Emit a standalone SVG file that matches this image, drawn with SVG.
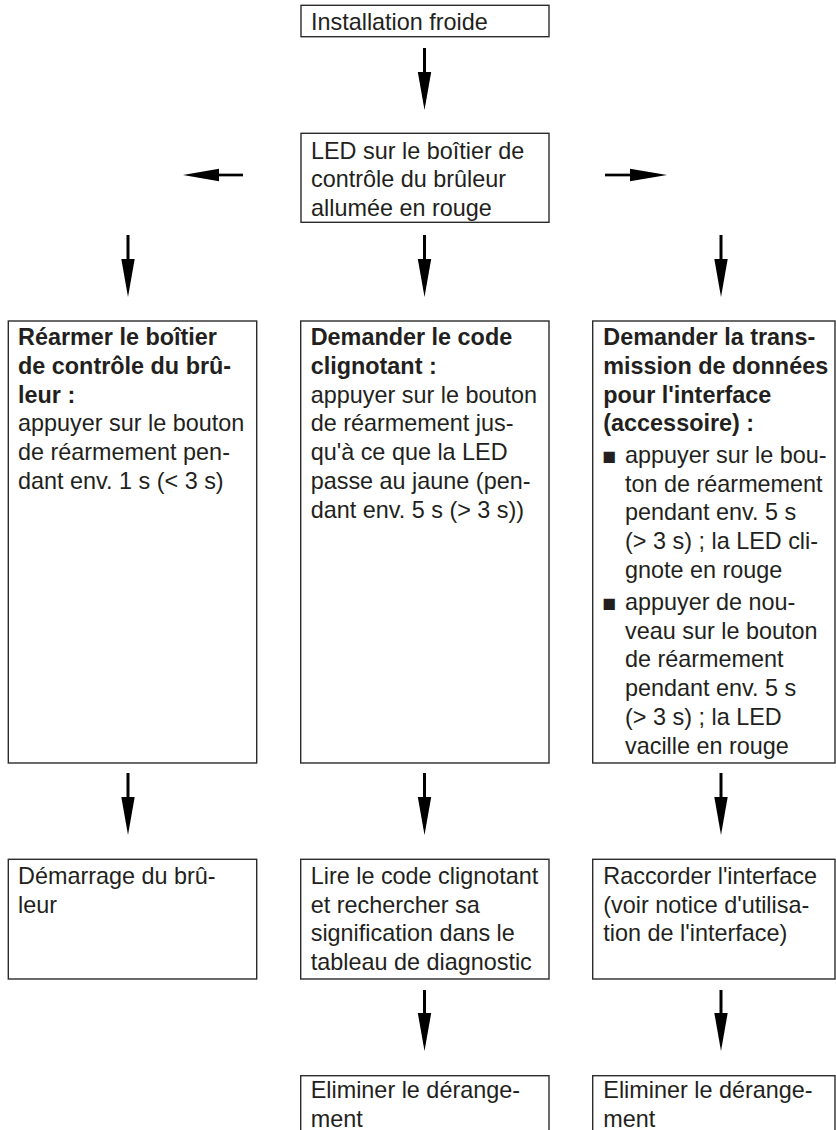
<svg xmlns="http://www.w3.org/2000/svg" width="836" height="1130" viewBox="0 0 836 1130">
<style>
.box{fill:#fff;stroke:#2b2b2b;stroke-width:1.4}
.t{font-family:"Liberation Sans",Arial,sans-serif;font-size:23.4px;fill:#231f20}
.b{font-weight:bold}
.bul{font-family:"Liberation Sans",Arial,sans-serif;font-size:23px;fill:#231f20}
.ln{stroke:#000;stroke-width:3;fill:none}
.hd{fill:#000}
</style>
<rect width="836" height="1130" fill="#fff"/>
<g id="connectors">
  <line class="ln" x1="424.5" y1="48" x2="424.5" y2="80"/><polygon class="hd" points="417.8,72 431.2,72 424.5,110"/>
  <line class="ln" x1="243" y1="175" x2="212" y2="175" style="stroke-width:2.7"/><polygon class="hd" points="219,168.7 219,181.3 183,175"/>
  <line class="ln" x1="605" y1="175" x2="637" y2="175" style="stroke-width:2.7"/><polygon class="hd" points="630,168.7 630,181.3 667,175"/>
  <line class="ln" x1="128" y1="235" x2="128" y2="267"/><polygon class="hd" points="121.3,259 134.7,259 128,297"/>
  <line class="ln" x1="424.5" y1="235" x2="424.5" y2="267"/><polygon class="hd" points="417.8,259 431.2,259 424.5,297"/>
  <line class="ln" x1="721" y1="235" x2="721" y2="267"/><polygon class="hd" points="714.3,259 727.7,259 721,297"/>
  <line class="ln" x1="128" y1="773" x2="128" y2="805"/><polygon class="hd" points="121.3,797 134.7,797 128,835"/>
  <line class="ln" x1="424.5" y1="773" x2="424.5" y2="805"/><polygon class="hd" points="417.8,797 431.2,797 424.5,835"/>
  <line class="ln" x1="721" y1="773" x2="721" y2="805"/><polygon class="hd" points="714.3,797 727.7,797 721,835"/>
  <line class="ln" x1="424.5" y1="990" x2="424.5" y2="1021"/><polygon class="hd" points="417.8,1013 431.2,1013 424.5,1051"/>
  <line class="ln" x1="721" y1="990" x2="721" y2="1021"/><polygon class="hd" points="714.3,1013 727.7,1013 721,1051"/>
</g>
<g id="n-installation">
  <rect class="box" x="301" y="5.3" width="248" height="31.4"/>
  <text class="t" x="311" y="30">Installation froide</text>
</g>
<g id="n-led">
  <rect class="box" x="301" y="133.3" width="248" height="89"/>
  <text class="t" x="311" y="158.5">LED sur le boîtier de</text>
  <text class="t" x="311" y="187.2">contrôle du brûleur</text>
  <text class="t" x="311" y="215.9">allumée en rouge</text>
</g>
<g id="n-rearmer">
  <rect class="box" x="8.3" y="321" width="248.4" height="442"/>
  <text class="t b" x="18" y="345.3">Réarmer le boîtier</text>
  <text class="t b" x="18" y="374">de contrôle du brû-</text>
  <text class="t b" x="18" y="402.7">leur :</text>
  <text class="t" x="18" y="431.4">appuyer sur le bouton</text>
  <text class="t" x="18" y="460.1">de réarmement pen-</text>
  <text class="t" x="18" y="488.8">dant env. 1 s (&lt; 3 s)</text>
</g>
<g id="n-code">
  <rect class="box" x="300.7" y="321" width="248.3" height="442"/>
  <text class="t b" x="310.7" y="345.3">Demander le code</text>
  <text class="t b" x="310.7" y="374">clignotant :</text>
  <text class="t" x="310.7" y="402.7">appuyer sur le bouton</text>
  <text class="t" x="310.7" y="431.4">de réarmement jus-</text>
  <text class="t" x="310.7" y="460.1">qu'à ce que la LED</text>
  <text class="t" x="310.7" y="488.8">passe au jaune (pen-</text>
  <text class="t" x="310.7" y="517.5">dant env. 5 s (&gt; 3 s))</text>
</g>
<g id="n-transmission">
  <rect class="box" x="592.7" y="321" width="242.3" height="442"/>
  <text class="t b" x="603.3" y="345.3">Demander la trans-</text>
  <text class="t b" x="603.3" y="374">mission de données</text>
  <text class="t b" x="603.3" y="402.7">pour l'interface</text>
  <text class="t b" x="603.3" y="431.4">(accessoire) :</text>
  <text class="bul" x="602.5" y="464">■</text>
  <text class="t" x="625" y="463">appuyer sur le bou-</text>
  <text class="t" x="625" y="491.7">ton de réarmement</text>
  <text class="t" x="625" y="520.4">pendant env. 5 s</text>
  <text class="t" x="625" y="549.1">(&gt; 3 s) ; la LED cli-</text>
  <text class="t" x="625" y="577.8">gnote en rouge</text>
  <text class="bul" x="602.5" y="611">■</text>
  <text class="t" x="625" y="610">appuyer de nou-</text>
  <text class="t" x="625" y="638.7">veau sur le bouton</text>
  <text class="t" x="625" y="667.4">de réarmement</text>
  <text class="t" x="625" y="696.1">pendant env. 5 s</text>
  <text class="t" x="625" y="724.8">(&gt; 3 s) ; la LED</text>
  <text class="t" x="625" y="753.5">vacille en rouge</text>
</g>
<g id="n-demarrage">
  <rect class="box" x="8.3" y="859.3" width="248.4" height="119.7"/>
  <text class="t" x="18" y="884">Démarrage du brû-</text>
  <text class="t" x="18" y="912.7">leur</text>
</g>
<g id="n-lire">
  <rect class="box" x="300.7" y="859.3" width="248.3" height="119.7"/>
  <text class="t" x="310.7" y="884">Lire le code clignotant</text>
  <text class="t" x="310.7" y="912.7">et rechercher sa</text>
  <text class="t" x="310.7" y="941.4">signification dans le</text>
  <text class="t" x="310.7" y="970.1">tableau de diagnostic</text>
</g>
<g id="n-raccorder">
  <rect class="box" x="592.7" y="859.3" width="242.3" height="119.7"/>
  <text class="t" x="603.3" y="884">Raccorder l'interface</text>
  <text class="t" x="603.3" y="912.7">(voir notice d'utilisa-</text>
  <text class="t" x="603.3" y="941.4">tion de l'interface)</text>
</g>
<g id="n-eliminer1">
  <rect class="box" x="300.7" y="1075.7" width="248.3" height="80"/>
  <text class="t" x="310.7" y="1098.3">Eliminer le dérange-</text>
  <text class="t" x="310.7" y="1127">ment</text>
</g>
<g id="n-eliminer2">
  <rect class="box" x="592.7" y="1075.7" width="242.3" height="80"/>
  <text class="t" x="603.3" y="1098.3">Eliminer le dérange-</text>
  <text class="t" x="603.3" y="1127">ment</text>
</g>
</svg>
